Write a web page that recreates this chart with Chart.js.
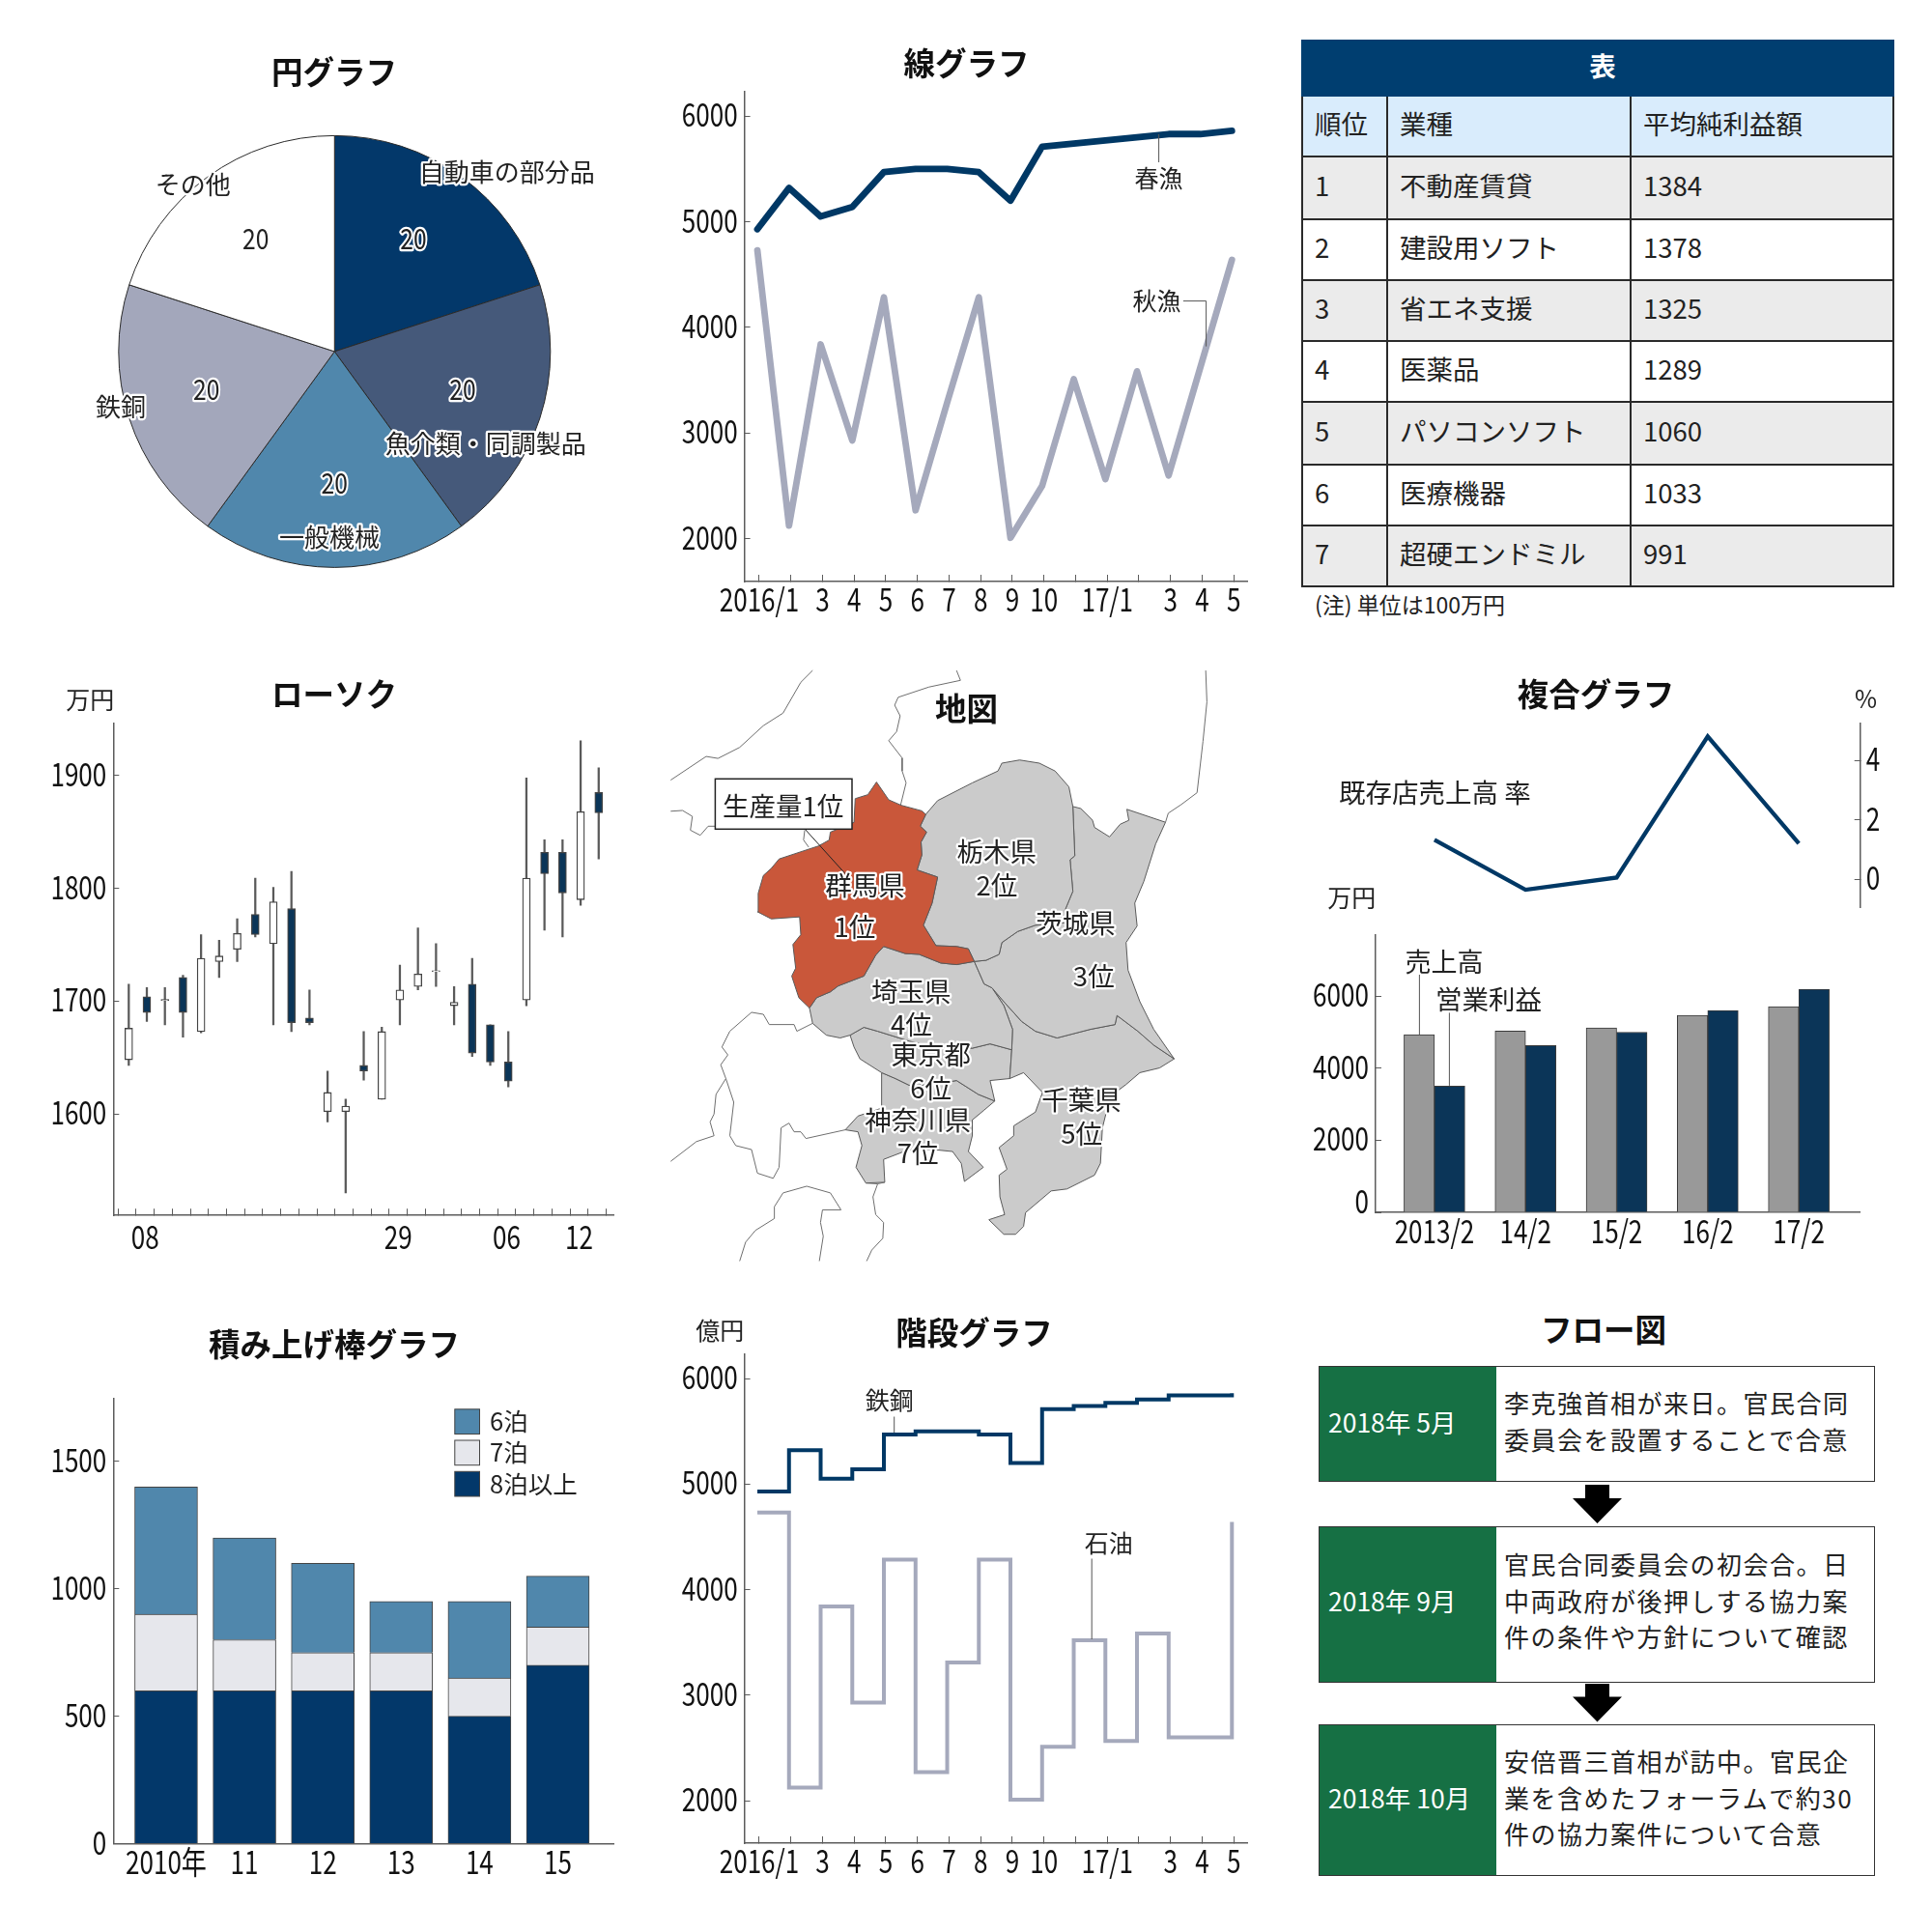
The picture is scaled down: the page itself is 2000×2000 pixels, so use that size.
<!doctype html>
<html>
<head>
<meta charset="utf-8">
<title>グラフ見本</title>
<script src="https://cdn.jsdelivr.net/npm/chart.js@4/dist/chart.umd.min.js"></script>
<style>
    html, body { margin: 0; padding: 0; background: #fff; }
    body { position: relative; width: 2000px; height: 2000px; overflow: hidden; font-family: "Noto Sans CJK JP"; color: #222; }
    canvas { position: absolute; }
    #rank { position: absolute; left: 1347px; top: 41px; width: 612px; border-collapse: collapse; table-layout: fixed; font-size: 27.5px; }
    #rank td, #rank th { border: 2px solid #2a2a2a; padding: 0 0 5px 12px; font-weight: 400; text-align: left; line-height: 1; }
    #rank th.head { background: #003e70; color: #fff; font-weight: 700; text-align: center; padding: 0 0 5px 10px; border-color: #003e70; }
    #rank tr.sub td { background: #d9ecfc; }
    #rank tr.odd td { background: #ebebeb; }
    #rankNote { position: absolute; left: 1361px; top: 608.5px; font-size: 23px; line-height: 32px; }
    #flowTitle { position: absolute; left: 1460px; width: 400px; top: 1354.5px; text-align: center; font-size: 32.5px; font-weight: 700; line-height: 40px; color: #111; }
    .flowBox { position: absolute; left: 1365px; width: 576px; box-sizing: border-box; border: 1.5px solid #333; display: flex; background: #fff; }
    .flowDate { width: 183px; background: #167044; color: #fff; font-size: 26.5px; display: flex; align-items: center; padding-left: 9px; box-sizing: border-box; white-space: pre; }
    .flowText { padding-left: 8px; font-size: 26px; letter-spacing: 1.5px; line-height: 37.6px; display: flex; flex-direction: column; justify-content: center; white-space: pre; }
    .flowArrow { position: absolute; left: 1628px; width: 51px; height: 40px; background: #000;
        clip-path: polygon(13px 0, 38px 0, 38px 14px, 51px 14px, 25.5px 40px, 0 14px, 13px 14px); }
</style>
</head>

<body>
<canvas id="pie" width="640" height="640" style="left:30px;top:30px"></canvas>
<canvas id="line" width="640" height="640" style="left:680px;top:30px"></canvas>
<canvas id="candle" width="640" height="640" style="left:30px;top:690px"></canvas>
<canvas id="map" width="640" height="640" style="left:680px;top:690px"></canvas>
<canvas id="rate" width="640" height="260" style="left:1340px;top:690px"></canvas>
<canvas id="sales" width="640" height="430" style="left:1340px;top:900px"></canvas>
<canvas id="stack" width="640" height="640" style="left:30px;top:1340px"></canvas>
<canvas id="step" width="640" height="640" style="left:680px;top:1340px"></canvas>
<table id="rank"></table>
<div id="rankNote">(注) 単位は100万円</div>
<div id="flowTitle">フロー図</div>
<div id="flow"></div>

<script>
    // ---- data ----
    const pieLabels = ['自動車の部分品', '魚介類・同調製品', '一般機械', '鉄銅', 'その他'];
    const pieValues = [20, 20, 20, 20, 20];
    const pieColors = ['#03386a', '#45597a', '#5087ac', '#a3a7bb', '#ffffff'];

    const monthLabels = ['2016/1', '', '3', '4', '5', '6', '7', '8', '9', '10', '', '17/1', '', '3', '4', '5'];
    const monthTicks = [2000, 3000, 4000, 5000, 6000];
    const springCatch = [4930, 5320, 5050, 5140, 5470, 5500, 5500, 5470, 5200, 5710, 5740, 5770, 5800, 5830, 5830, 5860];
    const autumnCatch = [4730, 2125, 3840, 2930, 4285, 2270, 3290, 4285, 2010, 2500, 3510, 2565, 3585, 2600, 3620, 4640];
    const steelSteps = [4930, 5320, 5050, 5140, 5470, 5500, 5500, 5470, 5200, 5710, 5740, 5770, 5800, 5840, 5840, 5860];
    const oilSteps = [4730, 2125, 3840, 2930, 4285, 2270, 3310, 4285, 2010, 2510, 3520, 2565, 3585, 2600, 2600, 4640];

    const candleLabels = ['', '08', '', '', '', '', '', '', '', '', '', '', '', '', '', '29', '', '', '', '', '', '06', '', '', '', '12', ''];
    const candleTicks = [1600, 1700, 1800, 1900];
    const wickLow  = [1643, 1682, 1679, 1668, 1672, 1721, 1735, 1757, 1679, 1673, 1679, 1593, 1530, 1630, 1613, 1679, 1710, 1713, 1679, 1651, 1643, 1624, 1696, 1763, 1757, 1785, 1826];
    const wickHigh = [1715, 1712, 1712, 1723, 1759, 1754, 1773, 1809, 1801, 1815, 1710, 1638, 1613, 1673, 1677, 1732, 1765, 1751, 1713, 1738, 1679, 1673, 1898, 1843, 1843, 1931, 1907];
    const bodyLow  = [1648, 1690, 1700.5, 1690, 1673, 1735, 1746, 1759, 1751, 1681, 1681, 1602, 1602, 1638, 1613, 1701, 1713, 1726, 1696, 1654, 1646, 1629, 1701, 1813, 1796, 1790, 1867];
    const bodyHigh = [1676, 1704, 1701.5, 1721, 1738, 1740, 1760, 1777, 1788, 1782, 1685, 1619, 1607, 1643, 1673, 1710, 1724, 1727, 1699, 1715, 1679, 1646, 1809, 1832, 1832, 1868, 1885];
    const bodyHollow = [1, 0, 1, 0, 1, 1, 1, 0, 1, 0, 0, 1, 1, 0, 1, 1, 1, 1, 1, 0, 0, 0, 1, 0, 0, 1, 0];

    const salesLabels = ['2013/2', '14/2', '15/2', '16/2', '17/2'];
    const salesTicks = [0, 2000, 4000, 6000];
    const salesValues = [4930, 5030, 5120, 5470, 5710];
    const profitValues = [3500, 4630, 5000, 5600, 6190];
    const rateTicks = [0, 2, 4];
    const rateValues = [1.32, -0.36, 0.05, 4.8, 1.2];

    const stackLabels = ['2010年', '11', '12', '13', '14', '15'];
    const stackTicks = [0, 500, 1000, 1500];
    const nights8 = [600, 600, 600, 600, 500, 700];
    const nights7 = [300, 200, 150, 150, 150, 150];
    const nights6 = [500, 400, 350, 200, 300, 200];

    const tableHeader = ['順位', '業種', '平均純利益額'];
    const tableKinds = ['不動産賃貸', '建設用ソフト', '省エネ支援', '医薬品', 'パソコンソフト', '医療機器', '超硬エンドミル'];
    const tableProfit = [1384, 1378, 1325, 1289, 1060, 1033, 991];

    const flowDates = ['2018年 5月', '2018年 9月', '2018年 10月'];
    const flowTexts = [
        ['李克強首相が来日。官民合同', '委員会を設置することで合意'],
        ['官民合同委員会の初会合。日', '中両政府が後押しする協力案', '件の条件や方針について確認'],
        ['安倍晋三首相が訪中。官民企', '業を含めたフォーラムで約30', '件の協力案件について合意']
    ];

    // map outlines, traced in the picture
    const gunma = [[557,293],[588,338],[620,352],[672,366],[682,375],[668,405],[684,420],[670,445],[672,478],[660,516],[712,534],[698,600],[676,656],[708,708],[760,710],[790,716],[805,748],[760,756],[720,752],[665,730],[630,728],[575,710],[555,732],[525,785],[460,810],[440,825],[405,840],[387,866],[360,840],[342,785],[352,765],[345,705],[365,680],[362,635],[290,640],[255,622],[257,575],[270,530],[290,512],[310,488],[410,455],[437,440],[440,420],[500,395],[503,335],[535,325]];
    const tochigi = [[682,375],[712,340],[800,295],[865,265],[875,245],[920,237],[970,245],[1010,265],[1045,305],[1055,355],[1060,480],[1048,490],[1055,570],[1035,618],[1035,650],[960,656],[915,672],[875,700],[868,730],[835,745],[805,748],[790,716],[760,710],[708,708],[676,656],[698,600],[712,534],[660,516],[672,478],[670,445],[684,420],[668,405]];
    const ibaraki = [[1055,355],[1075,360],[1105,390],[1110,408],[1148,432],[1175,400],[1197,390],[1192,362],[1290,395],[1265,450],[1235,545],[1212,600],[1218,658],[1190,700],[1195,770],[1225,850],[1260,920],[1312,995],[1260,960],[1220,925],[1167,885],[1162,908],[1100,920],[1015,942],[960,925],[925,900],[880,850],[850,815],[830,805],[805,748],[835,745],[868,730],[875,700],[915,672],[960,656],[1035,650],[1035,618],[1055,570],[1048,490],[1060,480]];
    const saitama = [[805,748],[760,756],[720,752],[665,730],[630,728],[575,710],[555,732],[525,785],[460,810],[440,825],[405,840],[387,866],[395,905],[430,935],[465,942],[490,935],[525,915],[560,925],[640,950],[700,965],[800,968],[845,957],[900,972],[902,920],[880,860],[850,815],[830,805]];
    const chiba = [[850,815],[880,850],[925,900],[960,925],[1015,942],[1100,920],[1162,908],[1167,885],[1220,925],[1260,960],[1312,995],[1275,1018],[1225,1030],[1190,1060],[1150,1090],[1130,1170],[1125,1260],[1110,1290],[1040,1325],[1000,1330],[935,1385],[930,1420],[910,1440],[880,1440],[842,1403],[882,1390],[870,1345],[868,1290],[888,1275],[868,1220],[905,1190],[905,1165],[960,1130],[978,1080],[930,1030],[895,1045],[900,972],[902,920],[880,860]];
    const tokyo = [[490,935],[525,915],[560,925],[640,950],[700,965],[800,968],[845,957],[900,972],[895,1045],[845,1050],[857,1102],[815,1085],[760,1050],[700,1060],[640,1062],[605,1045],[570,1030],[515,995],[500,965]];
    const kanagawa = [[570,1030],[605,1045],[640,1062],[700,1060],[760,1050],[815,1085],[857,1102],[830,1125],[800,1150],[800,1190],[790,1230],[828,1270],[780,1306],[772,1260],[750,1230],[700,1225],[640,1225],[575,1250],[578,1308],[530,1310],[505,1270],[520,1215],[510,1180],[478,1175],[510,1140],[570,1120]];
    const borderLines = [
        [[35,288],[125,228],[155,233],[210,205],[270,150],[320,118],[365,40],[395,10]],
        [[35,367],[65,365],[90,380],[85,415],[110,428],[130,405],[148,405]],
        [[375,415],[372,440],[385,458]],
        [[760,10],[770,35],[690,52],[612,78],[603,98],[617,125],[608,165],[588,188],[622,232],[622,265],[632,295],[618,352]],
        [[1392,10],[1395,90],[1385,190],[1370,320],[1330,350],[1297,372],[1290,395]],
        [[395,905],[355,925],[348,908],[285,908],[270,882],[240,877],[185,925],[165,965],[180,985],[162,1010],[175,1045],[195,1105],[185,1190],[200,1215],[240,1225],[255,1285],[295,1298],[310,1270],[315,1170],[335,1158],[348,1180],[365,1180],[378,1197],[478,1175]],
        [[175,1045],[150,1085],[145,1135],[135,1155],[145,1190],[100,1205],[35,1255]],
        [[210,1508],[225,1460],[250,1430],[298,1400],[298,1370],[320,1335],[380,1318],[440,1335],[467,1378],[420,1378],[415,1410],[422,1445],[412,1508]],
        [[530,1310],[560,1312],[578,1308]],
        [[560,1312],[548,1345],[555,1390],[575,1410],[573,1450],[545,1480],[532,1508]]
    ];

    // ---- helpers ----
    const JP = '"Noto Sans CJK JP"';
    const NAVY = '#003865', LAVENDER = '#a5a9bc', AXIS = '#5c5c5c';
    Chart.defaults.animation = false;
    Chart.defaults.responsive = false;
    Chart.defaults.font.family = JP;
    Chart.defaults.plugins.legend.display = false;
    Chart.defaults.plugins.tooltip.enabled = false;

    const xy = (v, i) => ({ x: i, y: v });
    const shifted = (vals, dx) => vals.map((v, i) => ({ x: i + dx, y: v }));

    // titles, leaders and labels, given in page pixels
    function notes(left, top, items) {
        return {
            id: 'notes',
            afterDraw(chart) {
                const ctx = chart.ctx;
                ctx.save();
                ctx.translate(-left, -top);
                items.forEach(n => {
                    if (n.line) {
                        ctx.strokeStyle = n.color || '#555';
                        ctx.lineWidth = n.width || 1;
                        ctx.beginPath();
                        n.line.forEach((p, i) => i ? ctx.lineTo(p[0], p[1]) : ctx.moveTo(p[0], p[1]));
                        ctx.stroke();
                    } else if (n.rect) {
                        ctx.fillStyle = n.fill;
                        ctx.fillRect(...n.rect);
                        ctx.strokeStyle = n.stroke || '#444';
                        ctx.lineWidth = n.width || 1;
                        ctx.strokeRect(...n.rect);
                    } else {
                        ctx.save();
                        ctx.translate(n.x, n.y);
                        ctx.scale(n.sx || 1, 1);
                        ctx.font = (n.weight || 400) + ' ' + (n.size || 25) + 'px ' + JP;
                        ctx.textAlign = n.align || 'center';
                        ctx.textBaseline = 'middle';
                        if (n.halo) {
                            ctx.strokeStyle = '#fff';
                            ctx.lineWidth = 4.5;
                            ctx.lineJoin = 'round';
                            ctx.strokeText(n.text, 0, 0);
                        }
                        ctx.fillStyle = n.color || '#222';
                        ctx.fillText(n.text, 0, 0);
                        ctx.restore();
                    }
                });
                ctx.restore();
            }
        };
    }
    const title = (text, x, y) => ({ text, x, y, size: 32.5, weight: 700, color: '#111' });

    // the tick labels are a narrow cut, so they are squeezed sideways
    function narrowTicks(gapX, zeroLift) {
        return {
            id: 'narrowTicks',
            afterDraw(chart) {
                const ctx = chart.ctx, area = chart.chartArea;
                Object.values(chart.scales).forEach(scale => {
                    if (!scale.options.display) return;
                    scale.ticks.forEach((tick, i) => {
                        if (!tick.label) return;
                        const p = scale.getPixelForTick(i);
                        ctx.save();
                        ctx.font = '400 33px ' + JP;
                        ctx.fillStyle = '#111';
                        ctx.textBaseline = 'middle';
                        if (scale.isHorizontal()) {
                            ctx.translate(p, area.bottom + gapX);
                            ctx.textAlign = 'center';
                        } else if (scale.position === 'right') {
                            ctx.translate(area.right + 6, p - 1.5);
                            ctx.textAlign = 'left';
                        } else {
                            ctx.translate(area.left - 7, p - 1.5 - (tick.value === 0 ? zeroLift || 0 : 0));
                            ctx.textAlign = 'right';
                        }
                        ctx.scale(0.79, 1);
                        ctx.fillText(tick.label, 0, 0);
                        ctx.restore();
                    });
                });
            }
        };
    }

    // an axis with a fixed place on the canvas and inward tick marks
    function axis(o) {
        return {
            type: 'linear',
            position: o.position,
            min: o.min,
            max: o.max,
            stacked: o.stacked,
            offset: false,
            display: o.display !== false,
            afterBuildTicks: s => { s.ticks = o.ticks.map(v => ({ value: v + (o.shift || 0) })); },
            afterFit: s => {
                s.paddingLeft = s.paddingRight = s.paddingTop = s.paddingBottom = 0;
                if (s.isHorizontal()) s.height = o.size; else s.width = o.size;
            },
            ticks: { display: false, callback: (v, i) => o.labels ? o.labels[i] : String(o.ticks[i]) },
            grid: { drawOnChartArea: false, drawTicks: o.tick !== 0, tickLength: -(o.tick === undefined ? 6 : o.tick), color: AXIS, lineWidth: 1 },
            border: { color: AXIS, width: 1.5 }
        };
    }
    const indexes = n => Array.from({ length: n }, (_, i) => i);

    // ---- pie ----
    new Chart(document.getElementById('pie'), {
        type: 'pie',
        data: { labels: pieLabels, datasets: [{ data: pieValues, backgroundColor: pieColors, borderColor: '#2a2a2a', borderWidth: 1 }] },
        options: { layout: { padding: { left: 92.3, right: 99.7, top: 109.9, bottom: 82.1 } } },
        plugins: [notes(30, 30, [
            title('円グラフ', 346, 74.5),
            { text: '20', x: 428, y: 247, size: 29, sx: 0.85, halo: 1 },
            { text: '20', x: 264.7, y: 247, size: 29, sx: 0.85, halo: 1 },
            { text: '20', x: 213.7, y: 403, size: 29, sx: 0.85, halo: 1 },
            { text: '20', x: 479, y: 403, size: 29, sx: 0.85, halo: 1 },
            { text: '20', x: 346.3, y: 499.7, size: 29, sx: 0.85, halo: 1 },
            { text: pieLabels[0], x: 524.8, y: 178.5, size: 26, halo: 1 },
            { text: pieLabels[4], x: 199.8, y: 191.5, size: 26, halo: 1 },
            { text: pieLabels[3], x: 125, y: 421.5, size: 26, halo: 1 },
            { text: pieLabels[1], x: 502.7, y: 459, size: 26, halo: 1 },
            { text: pieLabels[2], x: 341, y: 556.5, size: 26, halo: 1 }
        ])]
    });

    // ---- line ----
    new Chart(document.getElementById('line'), {
        type: 'line',
        data: { datasets: [
            { data: springCatch.map(xy), borderColor: NAVY, borderWidth: 6.8, pointRadius: 0, borderCapStyle: 'round', borderJoinStyle: 'round' },
            { data: autumnCatch.map(xy), borderColor: LAVENDER, borderWidth: 6.8, pointRadius: 0, borderCapStyle: 'round', borderJoinStyle: 'round' }
        ] },
        options: {
            layout: { padding: { top: 65, right: 29 } },
            scales: {
                x: axis({ min: -0.41, max: 15.48, ticks: indexes(16), shift: 0.06, labels: monthLabels, size: 68, tick: 7 }),
                y: axis({ min: 1596, max: 6230, ticks: monthTicks, size: 90.6 })
            }
        },
        plugins: [narrowTicks(18), notes(680, 30, [
            title('線グラフ', 1000.4, 66),
            { line: [[1199.6, 139], [1199.6, 168]] },
            { text: '春漁', x: 1199.6, y: 184.3 },
            { text: '秋漁', x: 1197.6, y: 311.6 },
            { line: [[1224.9, 311.6], [1248.6, 311.6], [1248.6, 358.6]] }
        ])]
    });

    // ---- candles ----
    new Chart(document.getElementById('candle'), {
        type: 'bar',
        data: { datasets: [
            {
                data: bodyLow.map((v, i) => ({ x: i, y: [v, bodyHigh[i]] })),
                backgroundColor: bodyHollow.map(h => h ? '#fff' : '#0b3558'),
                borderColor: '#444', borderWidth: 1.3, borderSkipped: false, barThickness: 8, grouped: false
            },
            {
                data: wickLow.map((v, i) => ({ x: i, y: [v, wickHigh[i]] })),
                backgroundColor: '#5a5a5a', barThickness: 1.6, grouped: false
            }
        ] },
        options: {
            layout: { padding: { top: 59.2, right: 34.7 } },
            scales: {
                x: axis({ min: -0.855, max: 26.83, ticks: indexes(27), shift: -0.09, labels: candleLabels, size: 71.8, tick: 7 }),
                y: axis({ min: 1510, max: 1946, ticks: candleTicks, size: 87.3 })
            }
        },
        plugins: [narrowTicks(22), notes(30, 690, [
            title('ローソク', 346, 719),
            { text: '万円', x: 93.3, y: 724.7 }
        ])]
    });

    // ---- map ----
    const closed = pts => pts.concat([pts[0]]).map(p => ({ x: p[0], y: p[1] }));
    const area = (pts, color) => ({ data: closed(pts), showLine: true, fill: 'shape', backgroundColor: color, borderColor: '#5a5a5a', borderWidth: 1, pointRadius: 0 });
    const mapX = z => 680 + z / 2.45, mapY = z => 690 + z / 2.45;
    const mapText = (text, zx, zy) => ({ text, x: mapX(zx), y: mapY(zy), size: 27.5, halo: 1 });
    new Chart(document.getElementById('map'), {
        type: 'scatter',
        data: { datasets: [
            area(gunma, '#c9573a'),
            area(tochigi, '#cbcbcb'), area(ibaraki, '#cbcbcb'), area(saitama, '#cbcbcb'),
            area(chiba, '#cbcbcb'), area(tokyo, '#cbcbcb'), area(kanagawa, '#cbcbcb')
        ].concat(borderLines.map(l => ({
            data: l.map(p => ({ x: p[0], y: p[1] })), showLine: true, borderColor: '#6e6e6e', borderWidth: 1, pointRadius: 0
        }))) },
        options: {
            scales: {
                x: { type: 'linear', display: false, min: 0, max: 1568 },
                y: { type: 'linear', display: false, min: 0, max: 1568, reverse: true }
            }
        },
        plugins: [notes(680, 690, [
            { text: '地図', x: 1000.4, y: 734, size: 32.5, weight: 700, color: '#111' },
            { line: [[833, 858], [880, 910]], color: '#222' },
            { rect: [740.4, 806.3, 141.6, 52], fill: '#fff', stroke: '#222', width: 1.5 },
            { text: '生産量1位', x: 810.6, y: 834.9, size: 27.5 },
            mapText('群馬県', 528, 555), mapText('1位', 502, 660),
            mapText('栃木県', 862, 470), mapText('2位', 862, 555),
            mapText('茨城県', 1062, 650), mapText('3位', 1108, 785),
            mapText('埼玉県', 645, 825), mapText('4位', 645, 908),
            mapText('千葉県', 1077, 1100), mapText('5位', 1077, 1185),
            mapText('東京都', 695, 985), mapText('6位', 695, 1070),
            mapText('神奈川県', 662, 1150), mapText('7位', 662, 1233)
        ])]
    });

    // ---- composite: rate line on top, bars below ----
    new Chart(document.getElementById('rate'), {
        type: 'line',
        data: { datasets: [{ data: rateValues.map(xy), borderColor: NAVY, borderWidth: 4.3, pointRadius: 0 }] },
        options: {
            layout: { padding: { left: 84, top: 59, bottom: 11 } },
            scales: {
                x: { type: 'linear', display: false, min: -0.646, max: 4.674 },
                y: axis({ position: 'right', min: -0.943, max: 5.236, ticks: rateTicks, size: 54.3 })
            }
        },
        plugins: [narrowTicks(0), notes(1340, 690, [
            title('複合グラフ', 1652, 718.4),
            { text: '%', x: 1931.4, y: 723.5 },
            { text: '既存店売上高 率', x: 1386, y: 820.6, size: 27.5, align: 'left' }
        ])]
    });

    new Chart(document.getElementById('sales'), {
        type: 'bar',
        data: { datasets: [
            { data: shifted(salesValues, -0.167), backgroundColor: '#999999', borderColor: '#3a3a3a', borderWidth: 1, barThickness: 31.5, grouped: false },
            { data: shifted(profitValues, 0.167), backgroundColor: '#0b3558', borderColor: '#3a3a3a', borderWidth: 1, barThickness: 31.5, grouped: false }
        ] },
        options: {
            layout: { padding: { top: 67.6, right: 54.3 } },
            scales: {
                x: axis({ min: -0.646, max: 4.674, ticks: indexes(5), labels: salesLabels, size: 75, tick: 0 }),
                y: axis({ min: 0, max: 7705, ticks: salesTicks, size: 84 })
            }
        },
        plugins: [narrowTicks(19.6, 10), notes(1340, 900, [
            { text: '万円', x: 1399.2, y: 929.6 },
            { text: '売上高', x: 1495, y: 995.3, size: 27 },
            { line: [[1469.4, 1009], [1469.4, 1071.6]] },
            { text: '営業利益', x: 1541, y: 1034.9, size: 27.5 },
            { line: [[1500.4, 1048.4], [1500.4, 1123.9]] }
        ])]
    });

    // ---- stacked bars ----
    const stackBar = (vals, color) => ({ data: vals.map(xy), backgroundColor: color, borderColor: '#444', borderWidth: 1, barThickness: 65 });
    new Chart(document.getElementById('stack'), {
        type: 'bar',
        data: { datasets: [stackBar(nights8, pieColors[0]), stackBar(nights7, '#e6e7ec'), stackBar(nights6, pieColors[2])] },
        options: {
            layout: { padding: { top: 108.2, right: 34.7 } },
            scales: {
                x: axis({ min: -0.674, max: 5.713, ticks: indexes(6), labels: stackLabels, size: 71.4, tick: 0, stacked: true }),
                y: axis({ min: 0, max: 1745, ticks: stackTicks, size: 87.3, stacked: true })
            }
        },
        plugins: [narrowTicks(19), notes(30, 1340, [
            title('積み上げ棒グラフ', 346, 1391.8),
            { rect: [470.8, 1458.8, 25.7, 25.7], fill: pieColors[2] },
            { rect: [470.8, 1491, 25.7, 25.7], fill: '#e6e7ec' },
            { rect: [470.8, 1523.3, 25.7, 25.7], fill: pieColors[0] },
            { text: '6泊', x: 507, y: 1471.3, align: 'left', size: 25.5 },
            { text: '7泊', x: 507, y: 1503.5, align: 'left', size: 25.5 },
            { text: '8泊以上', x: 507, y: 1536, align: 'left', size: 25.5 }
        ])]
    });

    // ---- step lines ----
    new Chart(document.getElementById('step'), {
        type: 'line',
        data: { datasets: [
            { data: steelSteps.map(xy), stepped: true, borderColor: NAVY, borderWidth: 4, pointRadius: 0 },
            { data: oilSteps.map(xy), stepped: true, borderColor: LAVENDER, borderWidth: 4, pointRadius: 0 }
        ] },
        options: {
            layout: { padding: { top: 62, right: 29 } },
            scales: {
                x: axis({ min: -0.41, max: 15.48, ticks: indexes(16), shift: 0.06, labels: monthLabels, size: 72, tick: 7 }),
                y: axis({ min: 1598, max: 6229, ticks: monthTicks, size: 90.6 })
            }
        },
        plugins: [narrowTicks(18), notes(680, 1340, [
            title('階段グラフ', 1008.6, 1379.8),
            { text: '億円', x: 745.3, y: 1377.5 },
            { text: '鉄鋼', x: 920.8, y: 1449.4 },
            { line: [[925.7, 1466.5], [925.7, 1483]] },
            { text: '石油', x: 1147.8, y: 1597 },
            { line: [[1130.2, 1613.5], [1130.2, 1697]] }
        ])]
    });

    // ---- table ----
    const rowHeights = [57, 63, 65, 63, 63, 63, 65, 63, 63];
    let html = '<colgroup><col style="width:88px"><col style="width:252px"><col style="width:272px"></colgroup>';
    html += '<tr style="height:' + rowHeights[0] + 'px"><th class="head" colspan="3">表</th></tr>';
    html += '<tr class="sub" style="height:' + rowHeights[1] + 'px">' + tableHeader.map(t => '<td>' + t + '</td>').join('') + '</tr>';
    tableKinds.forEach((kind, i) => {
        html += '<tr class="' + (i % 2 ? '' : 'odd') + '" style="height:' + rowHeights[i + 2] + 'px"><td>' + (i + 1) + '</td><td>' + kind + '</td><td>' + tableProfit[i] + '</td></tr>';
    });
    document.getElementById('rank').innerHTML = html;

    // ---- flow ----
    const flowTop = [1414, 1580, 1785], flowHeight = [120, 162, 157], arrowTop = [1537, 1742.5], flowLift = [6, 9, 6];
    let flowHtml = '';
    flowDates.forEach((d, i) => {
        const lift = 'padding-bottom:' + flowLift[i] + 'px';
        flowHtml += '<div class="flowBox" style="top:' + flowTop[i] + 'px;height:' + flowHeight[i] + 'px"><div class="flowDate" style="' + lift + '">' + d + '</div><div class="flowText" style="' + lift + '">'
            + flowTexts[i].map(l => '<span>' + l + '</span>').join('') + '</div></div>';
    });
    arrowTop.forEach(t => { flowHtml += '<div class="flowArrow" style="top:' + t + 'px"></div>'; });
    document.getElementById('flow').innerHTML = flowHtml;
</script>

</body>
</html>
